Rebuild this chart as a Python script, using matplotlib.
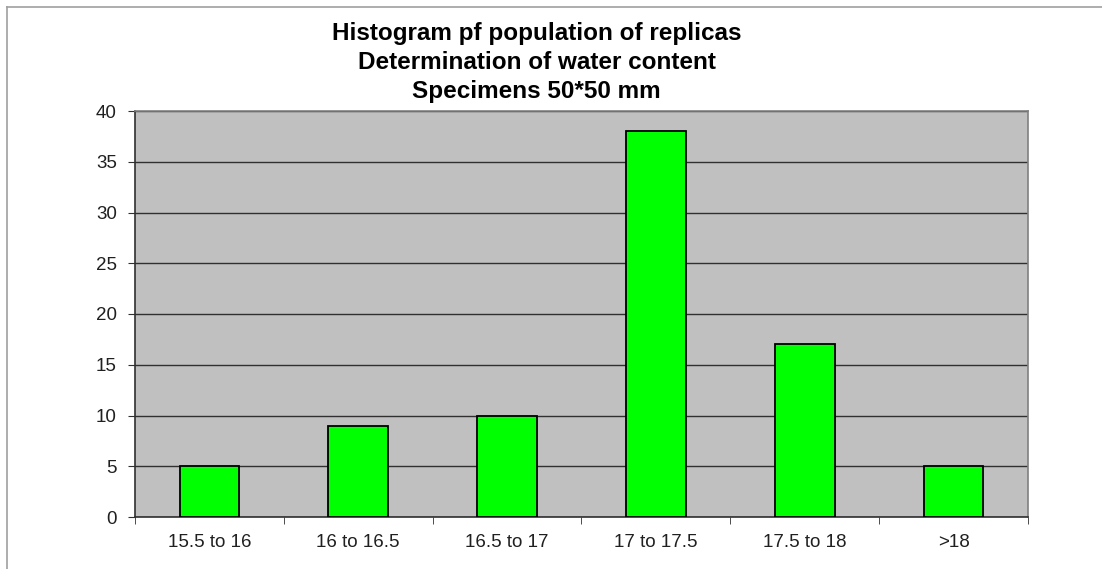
import matplotlib
matplotlib.use('Agg')
import matplotlib.pyplot as plt
import numpy as np
from matplotlib.lines import Line2D

plt.rcParams['font.family'] = ['Liberation Sans', 'DejaVu Sans']

categories = ['15.5 to 16', '16 to 16.5', '16.5 to 17', '17 to 17.5', '17.5 to 18', '>18']
counts = [5, 9, 10, 38, 17, 5]
title_lines = ['Histogram pf population of replicas',
               'Determination of water content',
               'Specimens 50*50 mm']

fig = plt.figure(figsize=(11.02, 5.69), dpi=100)
ax = fig.add_axes([135 / 1102, 1 - 517 / 569, (1028 - 135) / 1102, (517 - 111) / 569])

x = np.arange(len(categories))
ax.set_facecolor('#c0c0c0')
ax.bar(x, counts, width=0.4, color='#00ff00', edgecolor='black', linewidth=1.3, zorder=3)

ax.set_xlim(-0.5, len(categories) - 0.5)
ax.set_ylim(0, 40)
ax.set_yticks(np.arange(0, 41, 5))
ax.yaxis.grid(True, color='#303030', linewidth=1.0, zorder=1)
ax.set_axisbelow(True)

ax.set_xticks(x)
ax.set_xticklabels(categories, fontsize=13.5, color='#202020')
ax.tick_params(axis='x', length=0, pad=12)
ax.set_xticks(np.arange(-0.5, len(categories)), minor=True)
ax.tick_params(axis='x', which='minor', length=5, direction='out', color='#303030')
ax.tick_params(axis='y', labelsize=13.5, labelcolor='#202020', length=5,
               direction='out', color='#303030', pad=8)

for s in ['left', 'bottom']:
    ax.spines[s].set_color('#303030')
    ax.spines[s].set_linewidth(1.2)
for s in ['top', 'right']:
    ax.spines[s].set_color('#808080')
    ax.spines[s].set_linewidth(1.2)

fig.text(0.487, 1 - 22 / 569, '\n'.join(title_lines), ha='center', va='top',
         fontsize=17.5, fontweight='bold', linespacing=1.32)

# outer chart frame (top and left visible)
fig.add_artist(Line2D([7 / 1102, 7 / 1102], [0, 1 - 7 / 569], color='#a0a0a0', lw=1.2))
fig.add_artist(Line2D([7 / 1102, 1], [1 - 7 / 569, 1 - 7 / 569], color='#a0a0a0', lw=1.2))

fig.savefig('out.png', dpi=100)
